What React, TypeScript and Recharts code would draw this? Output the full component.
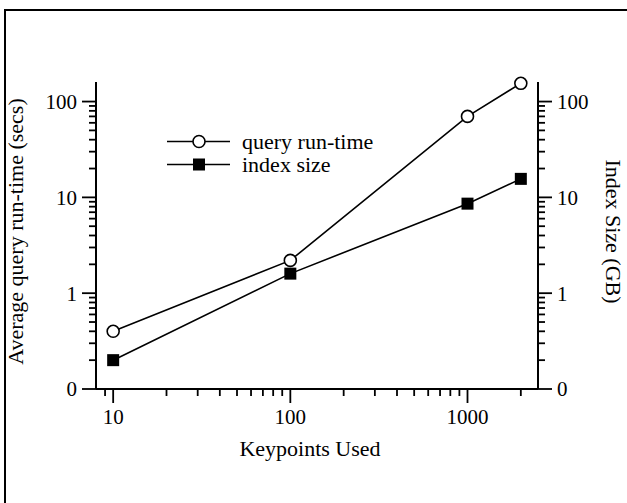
import { LineChart, Line, XAxis, YAxis, Legend, Label } from "recharts";

const keypoints = [10, 100, 1000, 2000];
const queryRuntime = [0.4, 2.2, 70, 155];
const indexSize = [0.2, 1.6, 8.6, 15.6];

const xMajorTicks = [10, 100, 1000];
const xMinorTicks = [9, 20, 30, 40, 50, 60, 70, 80, 90, 200, 300, 400, 500, 600, 700, 800, 900, 2000];
const yMajorTicks = [0.1, 1, 10, 100];
const yMinorTicks = [
  0.2, 0.3, 0.4, 0.5, 0.6, 0.7, 0.8, 0.9,
  2, 3, 4, 5, 6, 7, 8, 9,
  20, 30, 40, 50, 60, 70, 80, 90,
];
const legendOrder = ["query", "index"];

const data = keypoints.map((k, i) => ({
  k,
  query: queryRuntime[i],
  index: indexSize[i],
}));

const FONT = '"Liberation Serif", "Times New Roman", serif';
const fmtY = (v: number) => (v < 1 ? "0" : String(v));

function XTick(props: any) {
  const { x, y, payload } = props;
  const v = payload.value;
  const major = xMajorTicks.includes(v);
  return (
    <g>
      <line x1={x} x2={x} y1={y} y2={y + (major ? 14 : 7)} stroke="#000" strokeWidth={1.8} />
      {major && (
        <text x={x} y={y + 35} textAnchor="middle" fontFamily={FONT} fontSize={21} fill="#000">
          {v}
        </text>
      )}
    </g>
  );
}

function YTickLeft(props: any) {
  const { x, y, payload } = props;
  const v = payload.value;
  const major = yMajorTicks.includes(v);
  return (
    <g>
      <line x1={x} x2={x - (major ? 14 : 7)} y1={y} y2={y} stroke="#000" strokeWidth={1.8} />
      {major && (
        <text x={x - 19} y={y} dy="0.35em" textAnchor="end" fontFamily={FONT} fontSize={21} fill="#000">
          {fmtY(v)}
        </text>
      )}
    </g>
  );
}

function YTickRight(props: any) {
  const { x, y, payload } = props;
  const v = payload.value;
  const major = yMajorTicks.includes(v);
  return (
    <g>
      <line x1={x} x2={x + (major ? 14 : 7)} y1={y} y2={y} stroke="#000" strokeWidth={1.8} />
      {major && (
        <text x={x + 19} y={y} dy="0.35em" textAnchor="start" fontFamily={FONT} fontSize={21} fill="#000">
          {fmtY(v)}
        </text>
      )}
    </g>
  );
}

function XTitle(props: any) {
  const vb = props.viewBox;
  return (
    <text x={vb.x + vb.width / 2 - 7} y={vb.y + 67} textAnchor="middle" fontFamily={FONT} fontSize={22} fill="#000">
      Keypoints Used
    </text>
  );
}

function LeftTitle(props: any) {
  const vb = props.viewBox;
  const cy = vb.y + vb.height / 2 - 4;
  return (
    <text x={23} y={cy} transform={`rotate(-90 23 ${cy})`} textAnchor="middle" fontFamily={FONT} fontSize={22} fill="#000">
      Average query run-time (secs)
    </text>
  );
}

function RightTitle(props: any) {
  const vb = props.viewBox;
  const cy = vb.y + vb.height / 2 - 4;
  return (
    <text x={606} y={cy} transform={`rotate(90 606 ${cy})`} textAnchor="middle" fontFamily={FONT} fontSize={22} fill="#000">
      Index Size (GB)
    </text>
  );
}

function renderLegend(props: any) {
  const items = [...(props.payload || [])].sort(
    (a: any, b: any) => legendOrder.indexOf(a.dataKey) - legendOrder.indexOf(b.dataKey)
  );
  return (
    <div style={{ fontFamily: FONT, fontSize: 22, color: "#000", lineHeight: "23px" }}>
      {items.map((entry: any) => (
        <div key={entry.value} style={{ display: "flex", alignItems: "center", height: 23 }}>
          <svg width={66} height={23} style={{ display: "block" }}>
            <line x1={2} x2={65} y1={11.5} y2={11.5} stroke="#000" strokeWidth={1.6} />
            {entry.dataKey === "query" ? (
              <circle cx={34} cy={11.5} r={6} fill="#fff" stroke="#000" strokeWidth={1.6} />
            ) : (
              <rect x={28} y={5.5} width={12} height={12} fill="#000" />
            )}
          </svg>
          <span style={{ marginLeft: 11 }}>{entry.value}</span>
        </div>
      ))}
    </div>
  );
}

const squareDot = (p: any) => (
  <rect key={`sq-${p.index}`} x={p.cx - 6} y={p.cy - 6} width={12} height={12} fill="#000" />
);

export default function App() {
  return (
    <div style={{ position: "absolute", left: 0, top: 0, width: 627, height: 503, background: "#fff", fontFamily: FONT }}>
      <div
        style={{
          position: "absolute",
          left: 4,
          top: 9,
          width: 623,
          height: 494,
          boxSizing: "border-box",
          borderTop: "2px solid #000",
          borderLeft: "2px solid #000",
        }}
      />
      <div style={{ position: "absolute", left: 0, top: 0 }}>
        <LineChart width={627} height={503} data={data} margin={{ top: 82, right: 0, bottom: 54, left: 0 }}>
          <XAxis
            dataKey="k"
            type="number"
            scale="log"
            domain={[8, 2500]}
            ticks={[...xMajorTicks, ...xMinorTicks]}
            interval={0}
            tickSize={0}
            tickMargin={0}
            tickLine={false}
            tick={<XTick />}
            axisLine={{ stroke: "#000", strokeWidth: 2 }}
            height={60}
          >
            <Label content={XTitle} />
          </XAxis>
          <YAxis
            yAxisId="left"
            orientation="left"
            type="number"
            scale="log"
            domain={[0.1, 160]}
            ticks={[...yMajorTicks, ...yMinorTicks]}
            interval={0}
            tickSize={0}
            tickMargin={0}
            tickLine={false}
            tick={<YTickLeft />}
            axisLine={{ stroke: "#000", strokeWidth: 2 }}
            width={96}
          >
            <Label content={LeftTitle} />
          </YAxis>
          <YAxis
            yAxisId="right"
            orientation="right"
            type="number"
            scale="log"
            domain={[0.1, 160]}
            ticks={[...yMajorTicks, ...yMinorTicks]}
            interval={0}
            tickSize={0}
            tickMargin={0}
            tickLine={false}
            tick={<YTickRight />}
            axisLine={{ stroke: "#000", strokeWidth: 2 }}
            width={89}
          >
            <Label content={RightTitle} />
          </YAxis>
          <Legend
            layout="vertical"
            align="center"
            verticalAlign="middle"
            content={renderLegend}
            wrapperStyle={{ left: 165, top: 130, width: 260 }}
          />
          <Line
            yAxisId="left"
            dataKey="query"
            name="query run-time"
            type="linear"
            stroke="#000"
            strokeWidth={1.6}
            dot={{ r: 6, fill: "#fff", stroke: "#000", strokeWidth: 1.6 }}
            isAnimationActive={false}
          />
          <Line
            yAxisId="right"
            dataKey="index"
            name="index size"
            type="linear"
            stroke="#000"
            strokeWidth={1.6}
            dot={squareDot}
            isAnimationActive={false}
          />
        </LineChart>
      </div>
    </div>
  );
}
